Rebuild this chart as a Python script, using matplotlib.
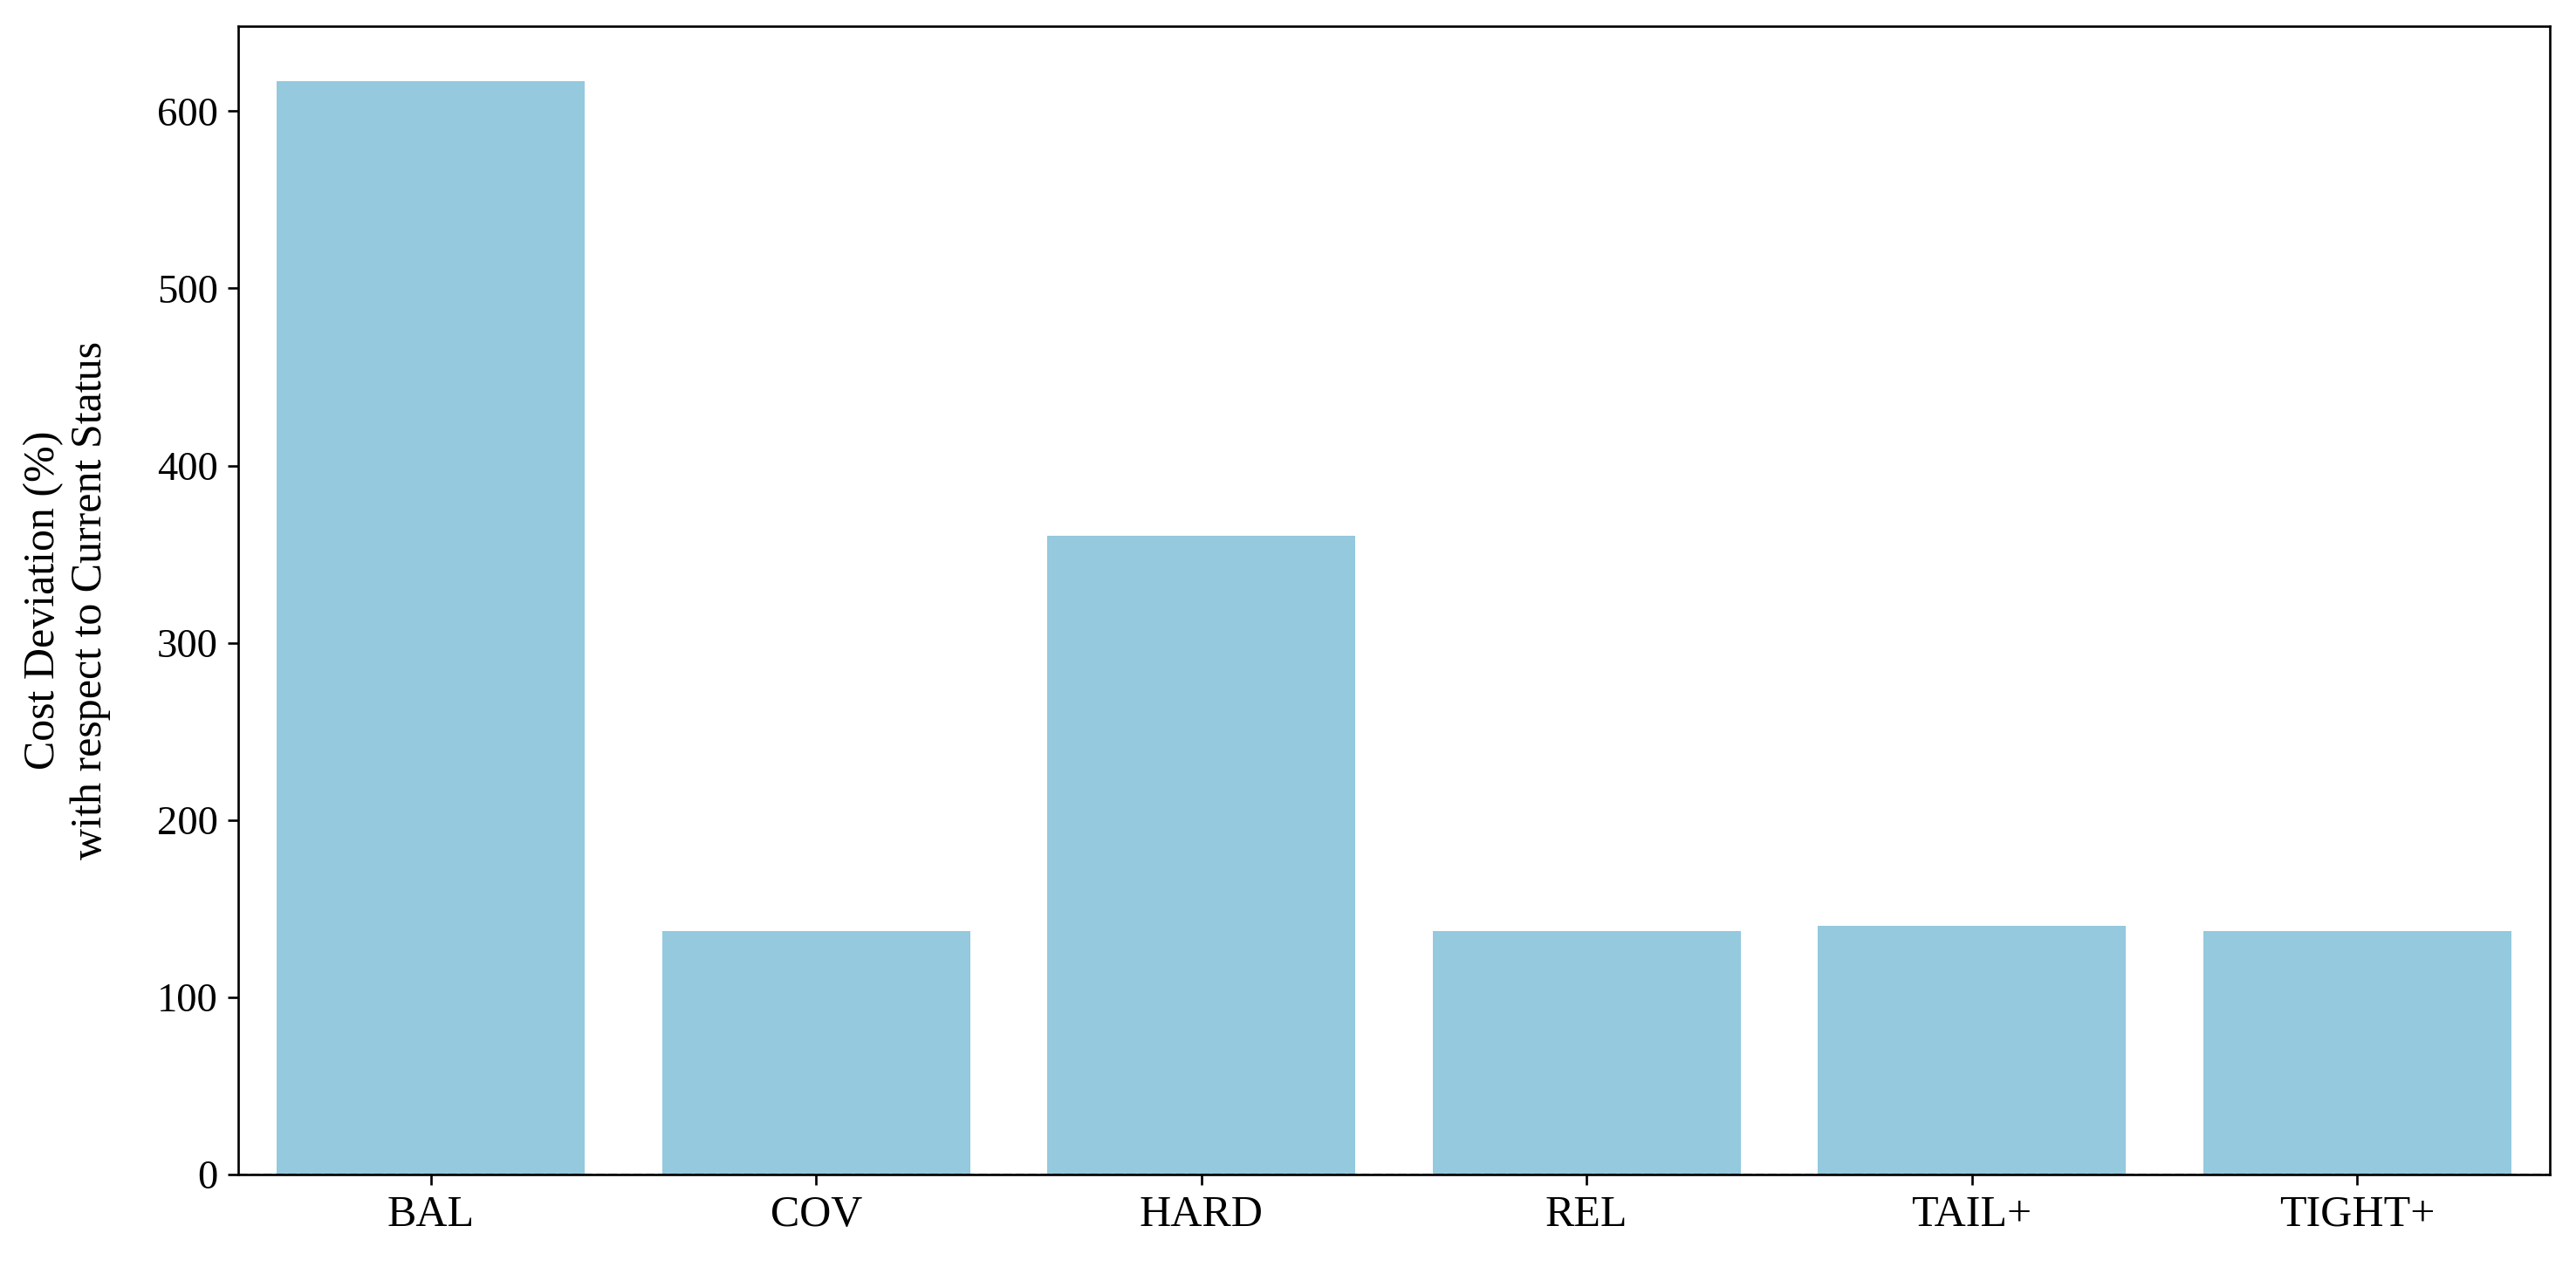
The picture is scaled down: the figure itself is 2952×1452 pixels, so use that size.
import matplotlib
matplotlib.use("Agg")
import matplotlib.pyplot as plt
import seaborn as sns
import pandas as pd

# Scenario labels and cost deviation values (%)
scenarios = ["BAL", "COV", "HARD", "REL", "TAIL+", "TIGHT+"]
cost_dev = [617.0, 137.5, 360.5, 137.5, 140.5, 137.5]

plt.rcParams['font.family'] = ['Liberation Serif', 'DejaVu Serif']

df = pd.DataFrame({"Scenario": scenarios, "CostDeviation": cost_dev})

fig, ax = plt.subplots(figsize=(12.3, 6.05), dpi=240)
sns.barplot(data=df, x="Scenario", y="CostDeviation", color="skyblue", ax=ax)

# Reference line at zero
ax.axhline(0, color="black", linestyle="--", linewidth=0.8)

ax.set_xlabel("")
ax.set_ylabel("Cost Deviation (%)\nwith respect to Current Status", fontsize=15, labelpad=16)
ax.tick_params(axis="x", labelsize=15)
ax.tick_params(axis="y", labelsize=14)

plt.subplots_adjust(left=0.0925, right=0.9898, top=0.9793, bottom=0.073)
fig.savefig("out.png", dpi=240)
